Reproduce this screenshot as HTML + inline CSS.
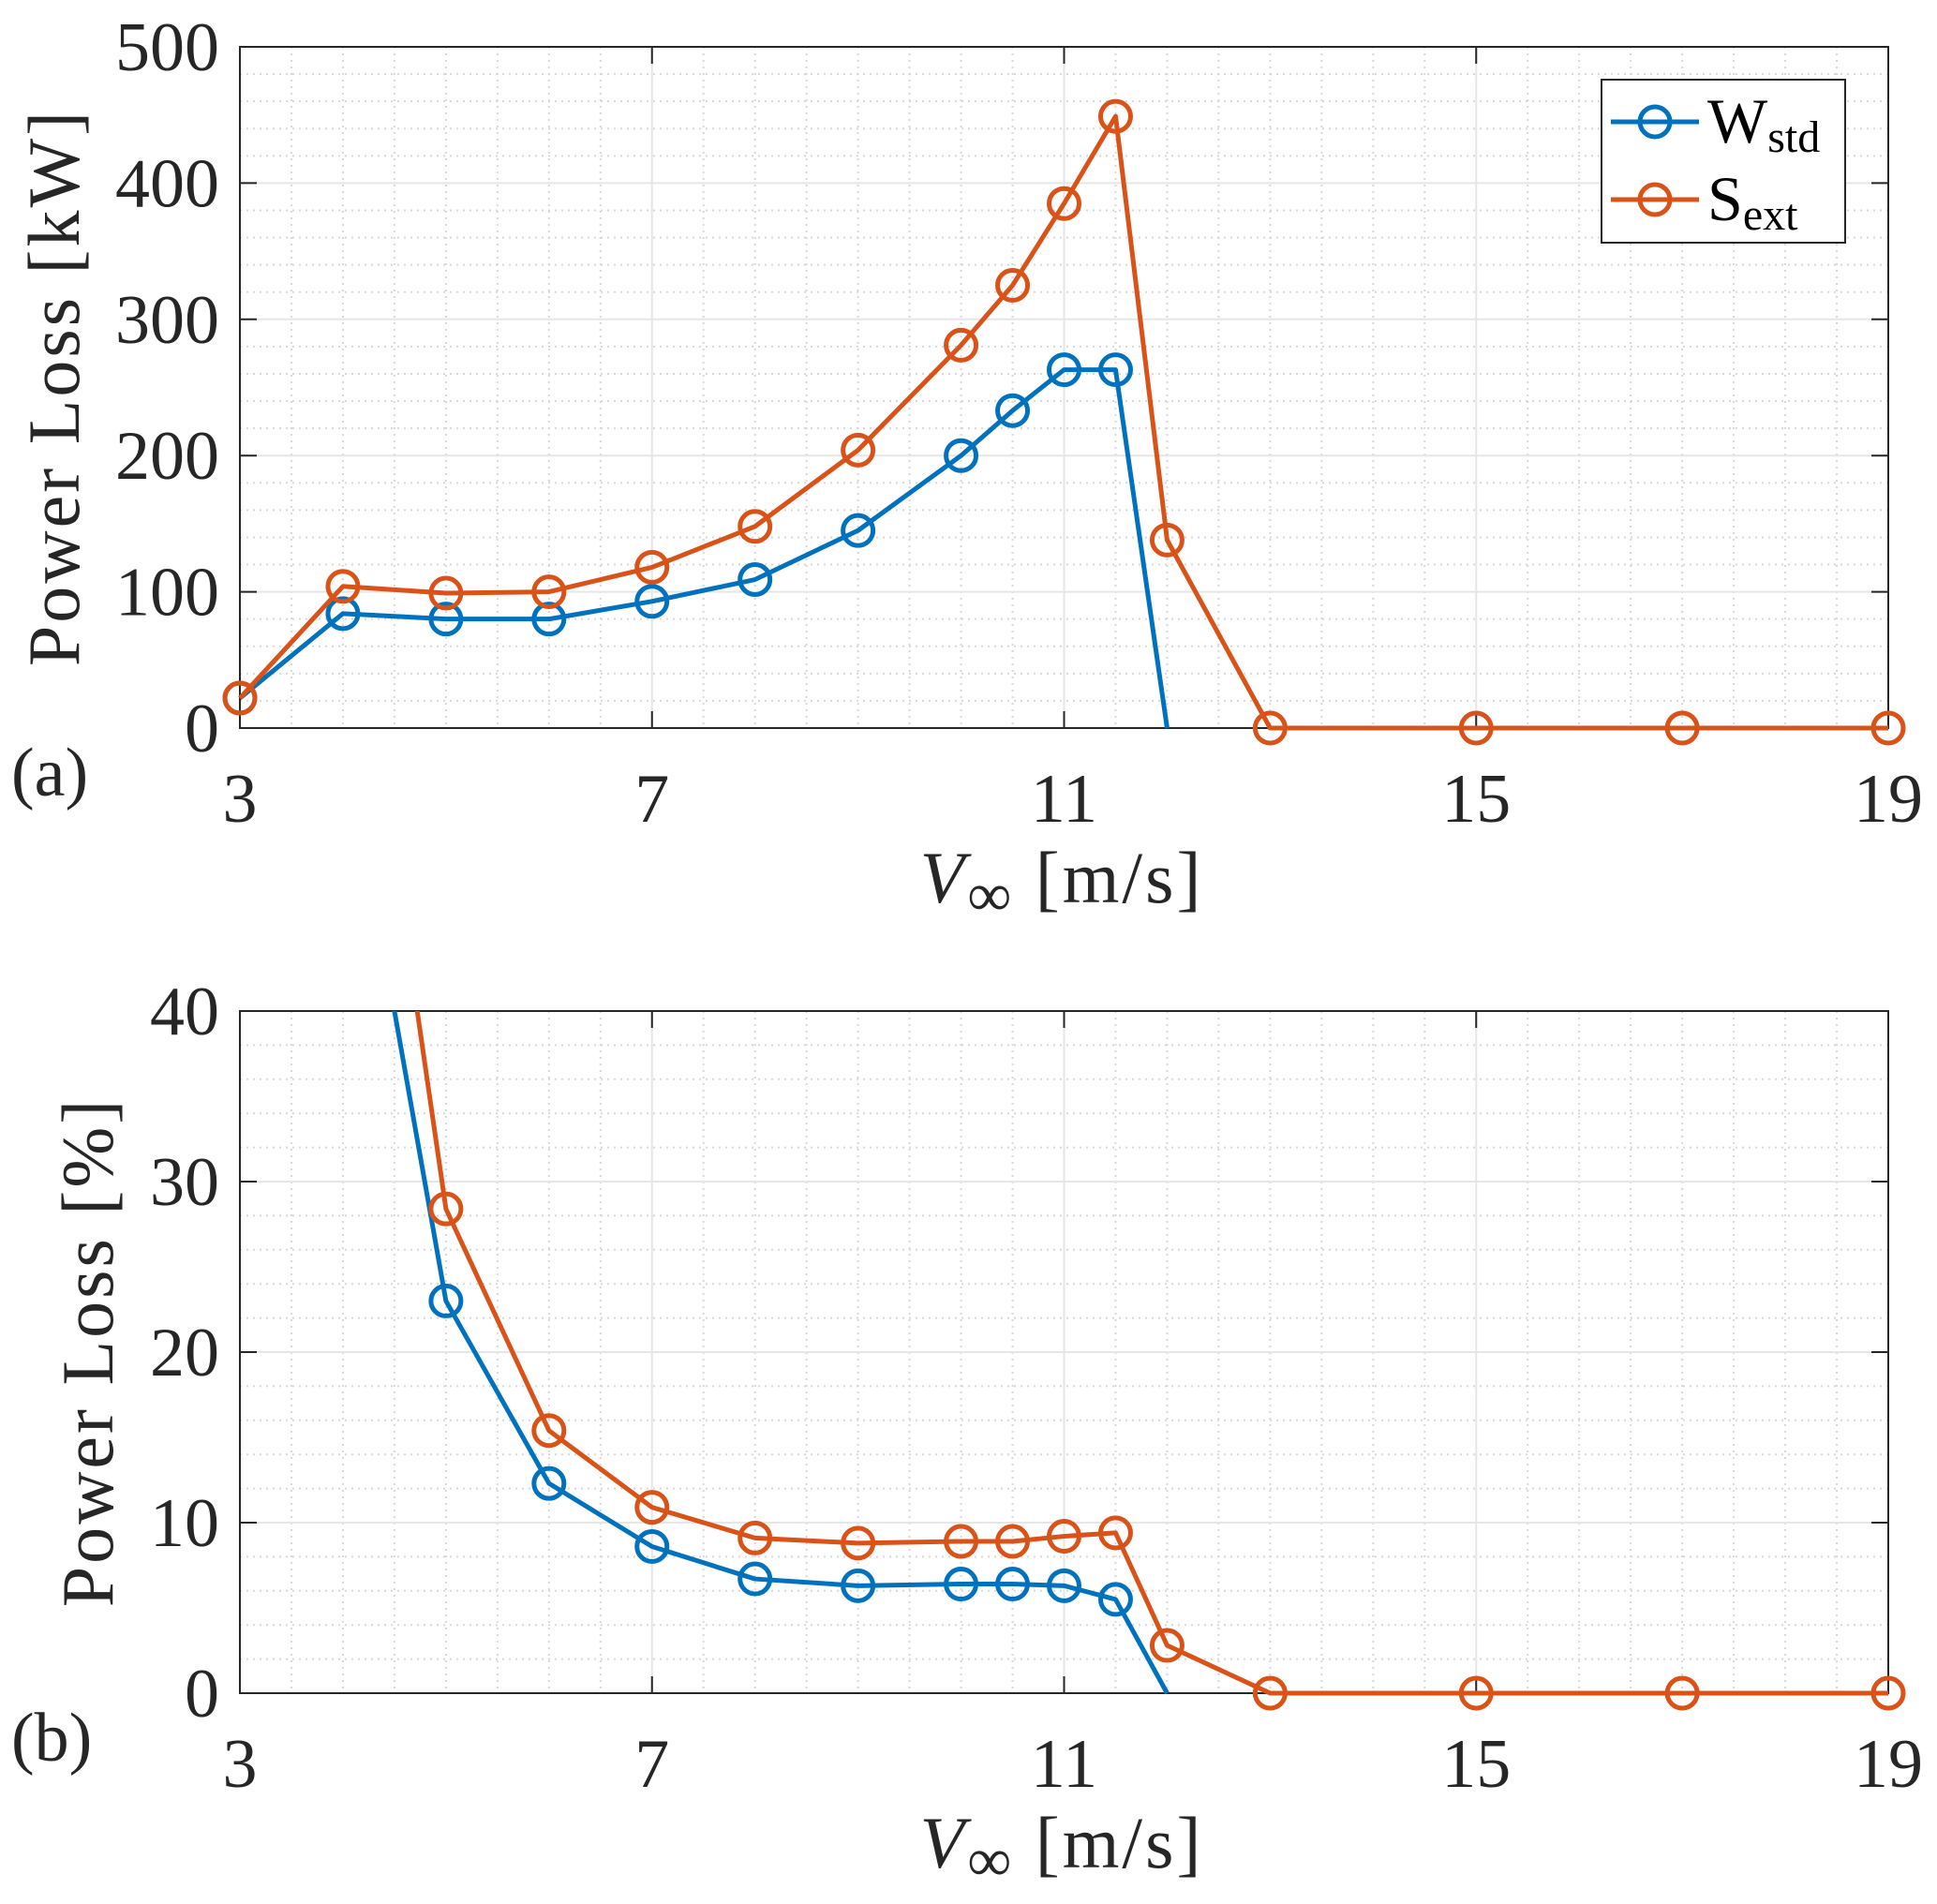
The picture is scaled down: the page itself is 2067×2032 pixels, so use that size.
<!DOCTYPE html>
<html><head><meta charset="utf-8"><style>
html,body{margin:0;padding:0;background:#fff;}
svg{display:block;font-family:"Liberation Serif",serif;}
</style></head><body>
<svg id="fig" width="2067" height="2032" viewBox="0 0 2067 2032" xmlns="http://www.w3.org/2000/svg"></svg>
<script>
const xVals = [3,4,5,6,7,8,9,10,10.5,11,11.5,12,13,15,17,19];
const wKW = [22,84,80,80,93,109,145,200,233,263,263,0];
const sKW = [22,104,99,100,118,148,204,281,325,385,449,138,0,0,0,0];
const wPct = [200,57,23,12.3,8.6,6.7,6.3,6.4,6.4,6.3,5.5,0];
const sPct = [250,70,28.4,15.4,10.9,9.1,8.8,8.9,8.9,9.2,9.4,2.8,0,0,0,0];
const xTicks = [3,7,11,15,19];
const yTicksA = [0,100,200,300,400,500];
const yTicksB = [0,10,20,30,40];

const NS='http://www.w3.org/2000/svg';
const svg=document.getElementById('fig');
function mk(tag,attrs,parent){const e=document.createElementNS(NS,tag);for(const k in attrs)e.setAttribute(k,attrs[k]);(parent||svg).appendChild(e);return e;}
const BLUE='#0072BD',ORANGE='#D95319';
const L=256,R=2015;

function panel(id,top,bot,ymax,yTicks,yMinorStep,seriesW,seriesS,noMarkW,ylab,ylabX,label,xlabY){
  const g=mk('g',{});
  
  
  const xs=v=>L+(v-3)/16*(R-L);
  const ys=v=>bot-v/ymax*(bot-top);
  for(let v=3.5;v<19;v+=0.5){ if(xTicks.includes(v))continue;
    mk('line',{x1:xs(v),x2:xs(v),y1:top,y2:bot,stroke:'#d8d8d8','stroke-width':2,'stroke-dasharray':'2 5'},g);}
  for(let v=yMinorStep;v<ymax;v+=yMinorStep){ if(yTicks.includes(Math.round(v*1000)/1000))continue;
    mk('line',{x1:L,x2:R,y1:ys(v),y2:ys(v),stroke:'#d8d8d8','stroke-width':2,'stroke-dasharray':'2 5'},g);}
  xTicks.forEach(v=>{ if(v>3&&v<19) mk('line',{x1:xs(v),x2:xs(v),y1:top,y2:bot,stroke:'#e6e6e6','stroke-width':2},g);});
  yTicks.forEach(v=>{ if(v>0&&v<ymax) mk('line',{x1:L,x2:R,y1:ys(v),y2:ys(v),stroke:'#e6e6e6','stroke-width':2},g);});
  xTicks.forEach(v=>{mk('line',{x1:xs(v),x2:xs(v),y1:bot,y2:bot-18,stroke:'#262626','stroke-width':2},g);mk('line',{x1:xs(v),x2:xs(v),y1:top,y2:top+18,stroke:'#262626','stroke-width':2},g);
    const t=mk('text',{x:xs(v),y:bot+100,'text-anchor':'middle','font-size':74,fill:'#262626'},g);t.textContent=v;
    });
  yTicks.forEach(v=>{mk('line',{x1:L,x2:L+18,y1:ys(v),y2:ys(v),stroke:'#262626','stroke-width':2},g);mk('line',{x1:R,x2:R-18,y1:ys(v),y2:ys(v),stroke:'#262626','stroke-width':2},g);
    const t=mk('text',{x:L-22,y:ys(v)+25,'text-anchor':'end','font-size':74,fill:'#262626'},g);t.textContent=v;
    });
  mk('rect',{x:L,y:top,width:R-L,height:bot-top,fill:'none',stroke:'#262626','stroke-width':2},g);
  const cp=mk('clipPath',{id:id+'-clip'},g);mk('rect',{x:L-30,y:top,width:R-L+60,height:bot-top+30},cp);
  const dg=mk('g',{'clip-path':'url(#'+id+'-clip)'},g);
  function series(vals,color,name,noMarkIdx){
    const pts=vals.map((v,i)=>xs(xVals[i])+','+ys(v)).join(' ');
    const pl=mk('polyline',{points:pts,fill:'none',stroke:color,'stroke-width':5,'stroke-linejoin':'round'},dg);
    
    vals.forEach((v,i)=>{ if(noMarkIdx!==null&&i>=noMarkIdx)return;
      const c=mk('circle',{cx:xs(xVals[i]),cy:ys(v),r:16,fill:'none',stroke:color,'stroke-width':5},dg);
      });
  }
  series(seriesW,BLUE,'w-std',noMarkW);
  series(seriesS,ORANGE,'s-ext',null);
  const yl=mk('text',{x:0,y:0,'text-anchor':'middle','font-size':78,'letter-spacing':3,fill:'#262626',transform:`translate(${ylabX},${(top+bot)/2}) rotate(-90)`},g);
  yl.textContent=ylab;
  const xl=mk('text',{x:1133,y:xlabY,'text-anchor':'middle','font-size':78,'letter-spacing':3,fill:'#262626'},g);
  xl.innerHTML='<tspan font-style="italic">V</tspan><tspan font-size="66" dy="14">∞</tspan><tspan dy="-14"> [m/s]</tspan>';
  
  const pl=mk('text',{x:12,y:bot+72,'font-size':74,fill:'#262626'},g);pl.textContent=label;
  
}
panel('panel-a',50,777,500,yTicksA,20,wKW,sKW,11,'Power Loss [kW]',84,'(a)',963);
panel('panel-b',1079,1807,40,yTicksB,2,wPct,sPct,11,'Power Loss [%]',120,'(b)',1993);

const lg=mk('g',{});


mk('rect',{x:1709,y:85,width:260,height:174,fill:'#fff',stroke:'#262626','stroke-width':2},lg);
[['W','std',BLUE,130],['S','ext',ORANGE,213]].forEach(([a,b,c,y])=>{
  const e=mk('g',{},lg);
  
  
  mk('line',{x1:1719,x2:1813,y1:y,y2:y,stroke:c,'stroke-width':5},e);
  mk('circle',{cx:1766,cy:y,r:16,fill:'none',stroke:c,'stroke-width':5},e);
  const t=mk('text',{x:1822,y:y+22,'font-size':68,fill:'#000'},e);
  t.innerHTML=a+'<tspan font-size="48" dy="10">'+b+'</tspan>';
});
</script>
</body></html>
